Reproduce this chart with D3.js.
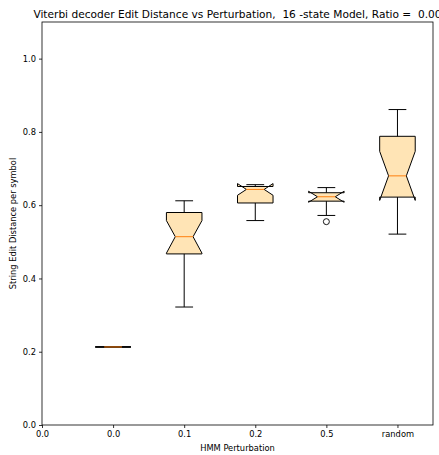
<!DOCTYPE html>
<html><head><meta charset="utf-8">
<script src="https://cdn.jsdelivr.net/npm/d3@7"></script>
<style>body{margin:0;background:#fff}svg{display:block}text{font-family:"DejaVu Sans",sans-serif;fill:#000}</style>
</head><body>
<script>
const categories = ["0.0", "0.1", "0.2", "0.5", "random"];
const tickLabels = ["0.0", "0.0", "0.1", "0.2", "0.5", "random"];
const whiskerLow  = [0.213, 0.322, 0.558, 0.572, 0.521];
const q1          = [0.213, 0.467, 0.606, 0.611, 0.622];
const median      = [0.213, 0.514, 0.643, 0.623, 0.680];
const q3          = [0.213, 0.580, 0.651, 0.634, 0.788];
const whiskerHigh = [0.213, 0.612, 0.656, 0.648, 0.861];
const notchLow    = [0.213, 0.469, 0.627, 0.608, 0.613];
const notchHigh   = [0.213, 0.558, 0.659, 0.638, 0.747];
const outliers    = [[], [], [], [0.555], []];
const yTicks = [0.0, 0.2, 0.4, 0.6, 0.8, 1.0];

const W = 439, H = 455;
const m = {l: 42, r: 6, t: 22, b: 30};
const svg = d3.select("body").append("svg").attr("width", W).attr("height", H);
const x = d3.scaleLinear().domain([0, 5.5]).range([m.l, W - m.r]);
const y = d3.scaleLinear().domain([0, 1.1]).range([H - m.b, m.t]);
const boxW = 0.5;

const g = svg.append("g");
const data = categories.map((c, i) => ({
  pos: i + 1, lo: whiskerLow[i], q1: q1[i], med: median[i], q3: q3[i], hi: whiskerHigh[i],
  nlo: notchLow[i], nhi: notchHigh[i], out: outliers[i]
}));

data.forEach(d => {
  const L = x(d.pos - boxW / 2), R = x(d.pos + boxW / 2);
  const cl = x(d.pos - boxW / 4), cr = x(d.pos + boxW / 4);
  const pts = [[L, y(d.q1)], [L, y(d.nlo)], [cl, y(d.med)], [L, y(d.nhi)], [L, y(d.q3)],
               [R, y(d.q3)], [R, y(d.nhi)], [cr, y(d.med)], [R, y(d.nlo)], [R, y(d.q1)]];
  g.append("path").attr("d", d3.line()(pts) + "Z")
    .attr("fill", "#ffe4b5").attr("stroke", "#000").attr("stroke-width", 1).attr("stroke-linejoin", "miter");
  const cx = x(d.pos);
  g.append("line").attr("x1", cx).attr("x2", cx).attr("y1", y(d.q1)).attr("y2", y(d.lo)).attr("stroke", "#000").attr("stroke-width", 1);
  g.append("line").attr("x1", cx).attr("x2", cx).attr("y1", y(d.q3)).attr("y2", y(d.hi)).attr("stroke", "#000").attr("stroke-width", 1);
  [d.lo, d.hi].forEach(v => g.append("line").attr("x1", cl).attr("x2", cr).attr("y1", y(v)).attr("y2", y(v)).attr("stroke", "#000").attr("stroke-width", 1));
  g.append("line").attr("x1", cl).attr("x2", cr).attr("y1", y(d.med)).attr("y2", y(d.med)).attr("stroke", "#ff7f0e").attr("stroke-width", 1);
  d.out.forEach(v => g.append("circle").attr("cx", cx).attr("cy", y(v)).attr("r", 3).attr("fill", "none").attr("stroke", "#000").attr("stroke-width", 0.9));
});

// frame
svg.append("rect").attr("x", m.l).attr("y", m.t).attr("width", W - m.r - m.l).attr("height", H - m.b - m.t)
  .attr("fill", "none").attr("stroke", "#000").attr("stroke-width", 0.8);

const xAxis = svg.append("g").attr("transform", `translate(0,${H - m.b})`)
  .call(d3.axisBottom(x).tickValues(d3.range(tickLabels.length)).tickFormat((d, i) => tickLabels[i]).tickSize(3).tickPadding(3));
const yAxis = svg.append("g").attr("transform", `translate(${m.l},0)`)
  .call(d3.axisLeft(y).tickValues(yTicks).tickFormat(d3.format(".1f")).tickSize(3).tickPadding(3));
[xAxis, yAxis].forEach(a => {
  a.select(".domain").remove();
  a.selectAll("line").attr("stroke", "#000").attr("stroke-width", 0.8);
  a.selectAll("text").style("font-size", "8.3px").attr("fill", "#000");
});

svg.append("text").attr("x", (m.l + W - m.r) / 2).attr("y", 451).attr("text-anchor", "middle")
  .style("font-size", "8.3px").text("HMM Perturbation");
svg.append("text").attr("transform", `translate(16,${(m.t + H - m.b) / 2}) rotate(-90)`).attr("text-anchor", "middle")
  .style("font-size", "8.3px").text("String Edit Distance per symbol");
svg.append("text").attr("x", (m.l + W - m.r) / 2).attr("y", 18).attr("text-anchor", "middle")
  .style("font-size", "10.6px").style("white-space", "pre").attr("xml:space", "preserve")
  .text("Viterbi decoder Edit Distance vs Perturbation,  16 -state Model, Ratio =  0.00");
</script>
</body></html>
